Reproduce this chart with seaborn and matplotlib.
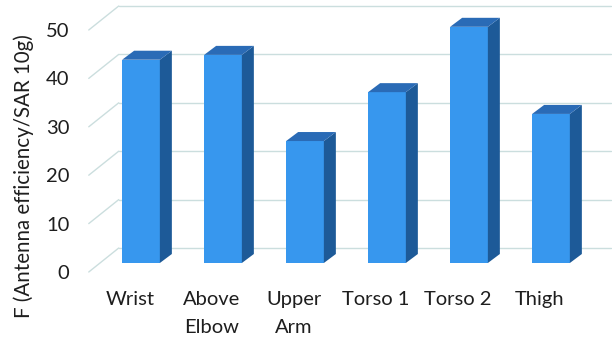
import numpy as np
import pandas as pd
import seaborn as sns
import matplotlib
matplotlib.use("Agg")
import matplotlib.pyplot as plt
from matplotlib.patches import Polygon
from matplotlib.transforms import ScaledTranslation

# Data
categories = ["Wrist", "Above\nElbow", "Upper\nArm", "Torso 1", "Torso 2", "Thigh"]
f_values = [42.0, 43.0, 25.2, 35.3, 48.8, 30.8]
y_ticks = [0, 10, 20, 30, 40, 50]
y_label = "F (Antenna efficiency/SAR 10g)"

FRONT = "#3797ee"
SIDE = "#1d5a98"
TOP = "#2a6bb6"
GRID = "#cbdede"
TEXT = "#1e1e1e"

sns.set_theme(style="white")
plt.rcParams["font.family"] = ["Lato", "DejaVu Sans"]

W, H, DPI = 6.12, 3.41, 100
fig = plt.figure(figsize=(W, H), dpi=DPI)
# axes spans the plane of the bar front faces (pixels: x 100..592, y 263..21)
ax = fig.add_axes([100 / 612, (341 - 263) / 341, 492 / 612, 242 / 341])

df = pd.DataFrame({"part": categories, "F": f_values})
sns.barplot(data=df, x="part", y="F", color=FRONT, saturation=1, width=0.46,
            ax=ax, zorder=3, edgecolor="none")
ax.set_xlim(-0.5, len(categories) - 0.5)
ax.set_ylim(0, 50)

# pixel -> data unit conversions
px_per_x = 492 / len(categories)
px_per_y = 242 / 50.0
def ddx(px):
    return px / px_per_x
def ddy(px):
    return px / px_per_y

# floor depth from front edge to back wall (pixels); bar plane sits at 0.375 depth
wall_dx, wall_dy = 30.0, 24.0
back_dx, back_dy = wall_dx * 0.625, wall_dy * 0.625
front_dx, front_dy = -wall_dx * 0.375, -wall_dy * 0.375

x0, x1 = ax.get_xlim()
for t in y_ticks:
    # back wall gridline
    ax.plot([x0 + ddx(back_dx), x1 + ddx(back_dx)], [t + ddy(back_dy), t + ddy(back_dy)],
            color=GRID, lw=1.0, zorder=1, clip_on=False)
    # side wall diagonal
    ax.plot([x0 + ddx(front_dx), x0 + ddx(back_dx)], [t + ddy(front_dy), t + ddy(back_dy)],
            color=GRID, lw=1.0, zorder=1, clip_on=False)

# 3D sides and tops of bars
bdx, bdy = ddx(12), ddy(9)
for p in ax.patches:
    bx0 = p.get_x()
    bx1 = bx0 + p.get_width()
    h = p.get_height()
    side = Polygon([[bx1, 0], [bx1 + bdx, bdy], [bx1 + bdx, h + bdy], [bx1, h]],
                   closed=True, facecolor=SIDE, edgecolor="none", zorder=3, clip_on=False)
    top = Polygon([[bx0, h], [bx0 + bdx, h + bdy], [bx1 + bdx, h + bdy], [bx1, h]],
                  closed=True, facecolor=TOP, edgecolor="none", zorder=3, clip_on=False)
    ax.add_patch(side)
    ax.add_patch(top)
    p.set_clip_on(False)

for s in ax.spines.values():
    s.set_visible(False)

ax.set_xlabel("")
ax.set_ylabel(y_label, fontsize=14.8, color=TEXT)
ax.set_yticks(y_ticks)
ax.set_yticklabels([str(t) for t in y_ticks])
ax.set_xticks(range(len(categories)))
ax.set_xticklabels(categories)
ax.tick_params(axis="y", length=0, pad=22, labelsize=14.5, colors=TEXT)
ax.tick_params(axis="x", length=0, pad=20, labelsize=14.5, colors=TEXT)

shift_y = ScaledTranslation(0, front_dy / DPI, fig.dpi_scale_trans)
shift_x = ScaledTranslation(front_dx / DPI, 0, fig.dpi_scale_trans)
for lab in ax.get_yticklabels():
    lab.set_transform(lab.get_transform() + shift_y)
for lab in ax.get_xticklabels():
    lab.set_transform(lab.get_transform() + shift_x)
    lab.set_linespacing(1.8)
ax.yaxis.set_label_coords(-66 / 492, 0.36)

fig.savefig("out.png", dpi=DPI)
